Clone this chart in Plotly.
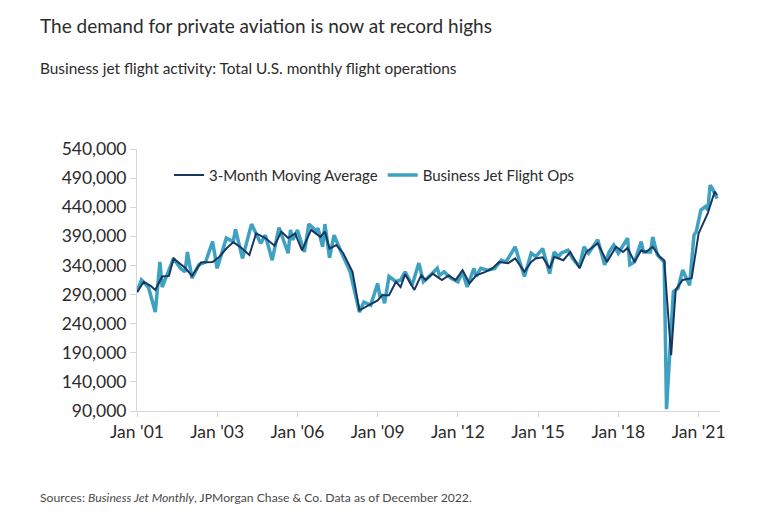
import plotly.graph_objects as go

# Business Jet Flight Ops (monthly readings, thousands of operations)
ops_dates = [
    "2001-01", "2001-03", "2001-06", "2001-09", "2001-11", "2001-12", "2002-02", "2002-05",
    "2002-08", "2002-10", "2002-11", "2003-01", "2003-04", "2003-07", "2003-10", "2003-12",
    "2004-04", "2004-07", "2004-08", "2004-11", "2005-03", "2005-07", "2005-09", "2005-12",
    "2006-03", "2006-07", "2006-08", "2006-09", "2006-11", "2007-02", "2007-04", "2007-06",
    "2007-07", "2007-08", "2007-10", "2007-11", "2008-01", "2008-03", "2008-06", "2008-10",
    "2009-02", "2009-04", "2009-07", "2009-10", "2009-11", "2009-12", "2010-01", "2010-03",
    "2010-06", "2010-08", "2010-10", "2011-01", "2011-04", "2011-06", "2011-09", "2011-12",
    "2012-01", "2012-03", "2012-06", "2012-09", "2012-11", "2013-01", "2013-04", "2013-05",
    "2013-07", "2013-10", "2014-01", "2014-04", "2014-06", "2014-10", "2014-12", "2015-02",
    "2015-05", "2015-07", "2015-10", "2016-01", "2016-03", "2016-05", "2016-06", "2016-09",
    "2016-11", "2017-02", "2017-04", "2017-06", "2017-10", "2018-01", "2018-03", "2018-05",
    "2018-07", "2018-11", "2018-12", "2019-02", "2019-05", "2019-06", "2019-09", "2019-10",
    "2019-12", "2020-03", "2020-04", "2020-07", "2020-09", "2020-11", "2021-02", "2021-04",
    "2021-05", "2021-07", "2021-09", "2021-10", "2021-11", "2021-12", "2022-02",
]
ops_values = [
    295, 315, 303, 260, 346, 303, 323, 352,
    335, 329, 363, 318, 341, 346, 381, 335,
    387, 381, 402, 352, 411, 378, 392, 349,
    405, 361, 401, 384, 401, 363, 411, 404,
    398, 404, 372, 411, 353, 392, 364, 329,
    260, 277, 272, 309, 286, 290, 275, 321,
    312, 315, 329, 306, 344, 312, 323, 335,
    323, 329, 318, 312, 329, 303, 335, 321,
    335, 332, 335, 349, 346, 372, 346, 321,
    361, 355, 369, 326, 363, 355, 361, 366,
    352, 338, 372, 361, 384, 341, 363, 375,
    361, 387, 341, 346, 381, 363, 363, 389,
    358, 346, 93, 295, 301, 332, 306, 392,
    398, 435, 441, 435, 478, 472, 455,
]

# 3-Month Moving Average (thousands)
ma_dates = [
    "2001-01", "2001-04", "2001-07", "2001-09", "2001-12", "2002-03", "2002-05", "2002-08",
    "2002-10", "2003-01", "2003-05", "2003-10", "2004-01", "2004-04", "2004-07", "2004-10",
    "2005-02", "2005-05", "2005-09", "2006-01", "2006-04", "2006-07", "2006-10", "2007-01",
    "2007-05", "2007-09", "2007-11", "2008-01", "2008-04", "2008-07", "2008-11", "2009-02",
    "2009-06", "2009-10", "2009-12", "2010-03", "2010-06", "2010-08", "2010-10", "2011-02",
    "2011-05", "2011-07", "2011-10", "2012-02", "2012-05", "2012-08", "2012-11", "2013-02",
    "2013-05", "2013-09", "2013-12", "2014-03", "2014-07", "2014-10", "2015-02", "2015-05",
    "2015-07", "2015-10", "2016-01", "2016-03", "2016-07", "2016-10", "2017-02", "2017-05",
    "2017-10", "2018-02", "2018-06", "2018-09", "2018-11", "2019-02", "2019-05", "2019-07",
    "2019-10", "2020-01", "2020-03", "2020-06", "2020-08", "2020-11", "2021-03", "2021-06",
    "2021-10", "2022-01", "2022-02",
]
ma_values = [
    294, 312, 305, 298, 321, 322, 352, 342,
    336, 322, 345, 346, 355, 369, 380, 372,
    358, 395, 387, 374, 398, 387, 395, 366,
    401, 389, 398, 369, 375, 361, 329, 263,
    272, 280, 289, 289, 312, 303, 325, 298,
    323, 315, 326, 315, 323, 315, 332, 309,
    323, 329, 335, 346, 344, 352, 329, 346,
    352, 354, 335, 355, 349, 363, 335, 363,
    378, 346, 372, 363, 370, 346, 366, 363,
    372, 355, 349, 186, 298, 315, 318, 395,
    430, 467, 461,
]

tick_dates = ["2001-01-01", "2003-12-01", "2006-11-01", "2009-10-01",
              "2012-09-01", "2015-08-01", "2018-07-01", "2021-06-01"]
tick_labels = ["Jan '01", "Jan '03", "Jan '06", "Jan '09",
               "Jan '12", "Jan '15", "Jan '18", "Jan '21"]
y_ticks = [90000, 140000, 190000, 240000, 290000, 340000, 390000, 440000, 490000, 540000]

FONT = "Lato"
TEAL = "#3fa1c1"
NAVY = "#17375f"
TEXT = "#2b2b2b"
AXIS = "#d6d6d6"

fig = go.Figure()
fig.add_trace(go.Scatter(
    x=ops_dates, y=[v * 1000 for v in ops_values], mode="lines",
    name="Business Jet Flight Ops", line=dict(color=TEAL, width=3.5),
))
fig.add_trace(go.Scatter(
    x=ma_dates, y=[v * 1000 for v in ma_values], mode="lines",
    name="3-Month Moving Average", line=dict(color=NAVY, width=2),
))

fig.update_layout(
    width=758, height=526,
    margin=dict(l=137, r=38, t=149, b=115),
    paper_bgcolor="white", plot_bgcolor="white",
    font=dict(family=FONT, color=TEXT, size=15),
    showlegend=True,
    legend=dict(orientation="h", x=0.055, y=0.90, xanchor="left", yanchor="middle",
                traceorder="reversed", font=dict(size=15, color=TEXT),
                bgcolor="rgba(0,0,0,0)", itemwidth=30),
    xaxis=dict(type="date", range=["2001-01-01", "2022-03-12"],
               tickmode="array", tickvals=tick_dates, ticktext=tick_labels,
               showgrid=False, zeroline=False, showline=True, linecolor=AXIS, linewidth=1,
               ticks="outside", ticklen=5, tickcolor=AXIS,
               tickfont=dict(size=17.5, color=TEXT, family=FONT)),
    yaxis=dict(range=[90000, 540000], tickmode="array", tickvals=y_ticks,
               tickformat=",", showgrid=False, zeroline=False, showline=True,
               linecolor=AXIS, linewidth=1, ticks="outside", ticklen=6, tickcolor=AXIS,
               tickfont=dict(size=17.5, color=TEXT, family=FONT)),
)

fig.add_annotation(text="The demand for private aviation is now at record highs",
                   xref="paper", yref="paper", x=(38 - 137) / 583, y=(411 - 25) / 262,
                   xanchor="left", yanchor="middle", showarrow=False,
                   font=dict(size=19, color=TEXT, family=FONT))
fig.add_annotation(text="Business jet flight activity: Total U.S. monthly flight operations",
                   xref="paper", yref="paper", x=(38 - 137) / 583, y=(411 - 68) / 262,
                   xanchor="left", yanchor="middle", showarrow=False,
                   font=dict(size=15.4, color=TEXT, family=FONT))
fig.add_annotation(text="Sources: <i>Business Jet Monthly</i>, JPMorgan Chase &amp; Co. Data as of December 2022.",
                   xref="paper", yref="paper", x=(38 - 137) / 583, y=(411 - 497) / 262,
                   xanchor="left", yanchor="middle", showarrow=False,
                   font=dict(size=12.2, color="#4a4a4a", family=FONT))

fig.write_html("out.html")
